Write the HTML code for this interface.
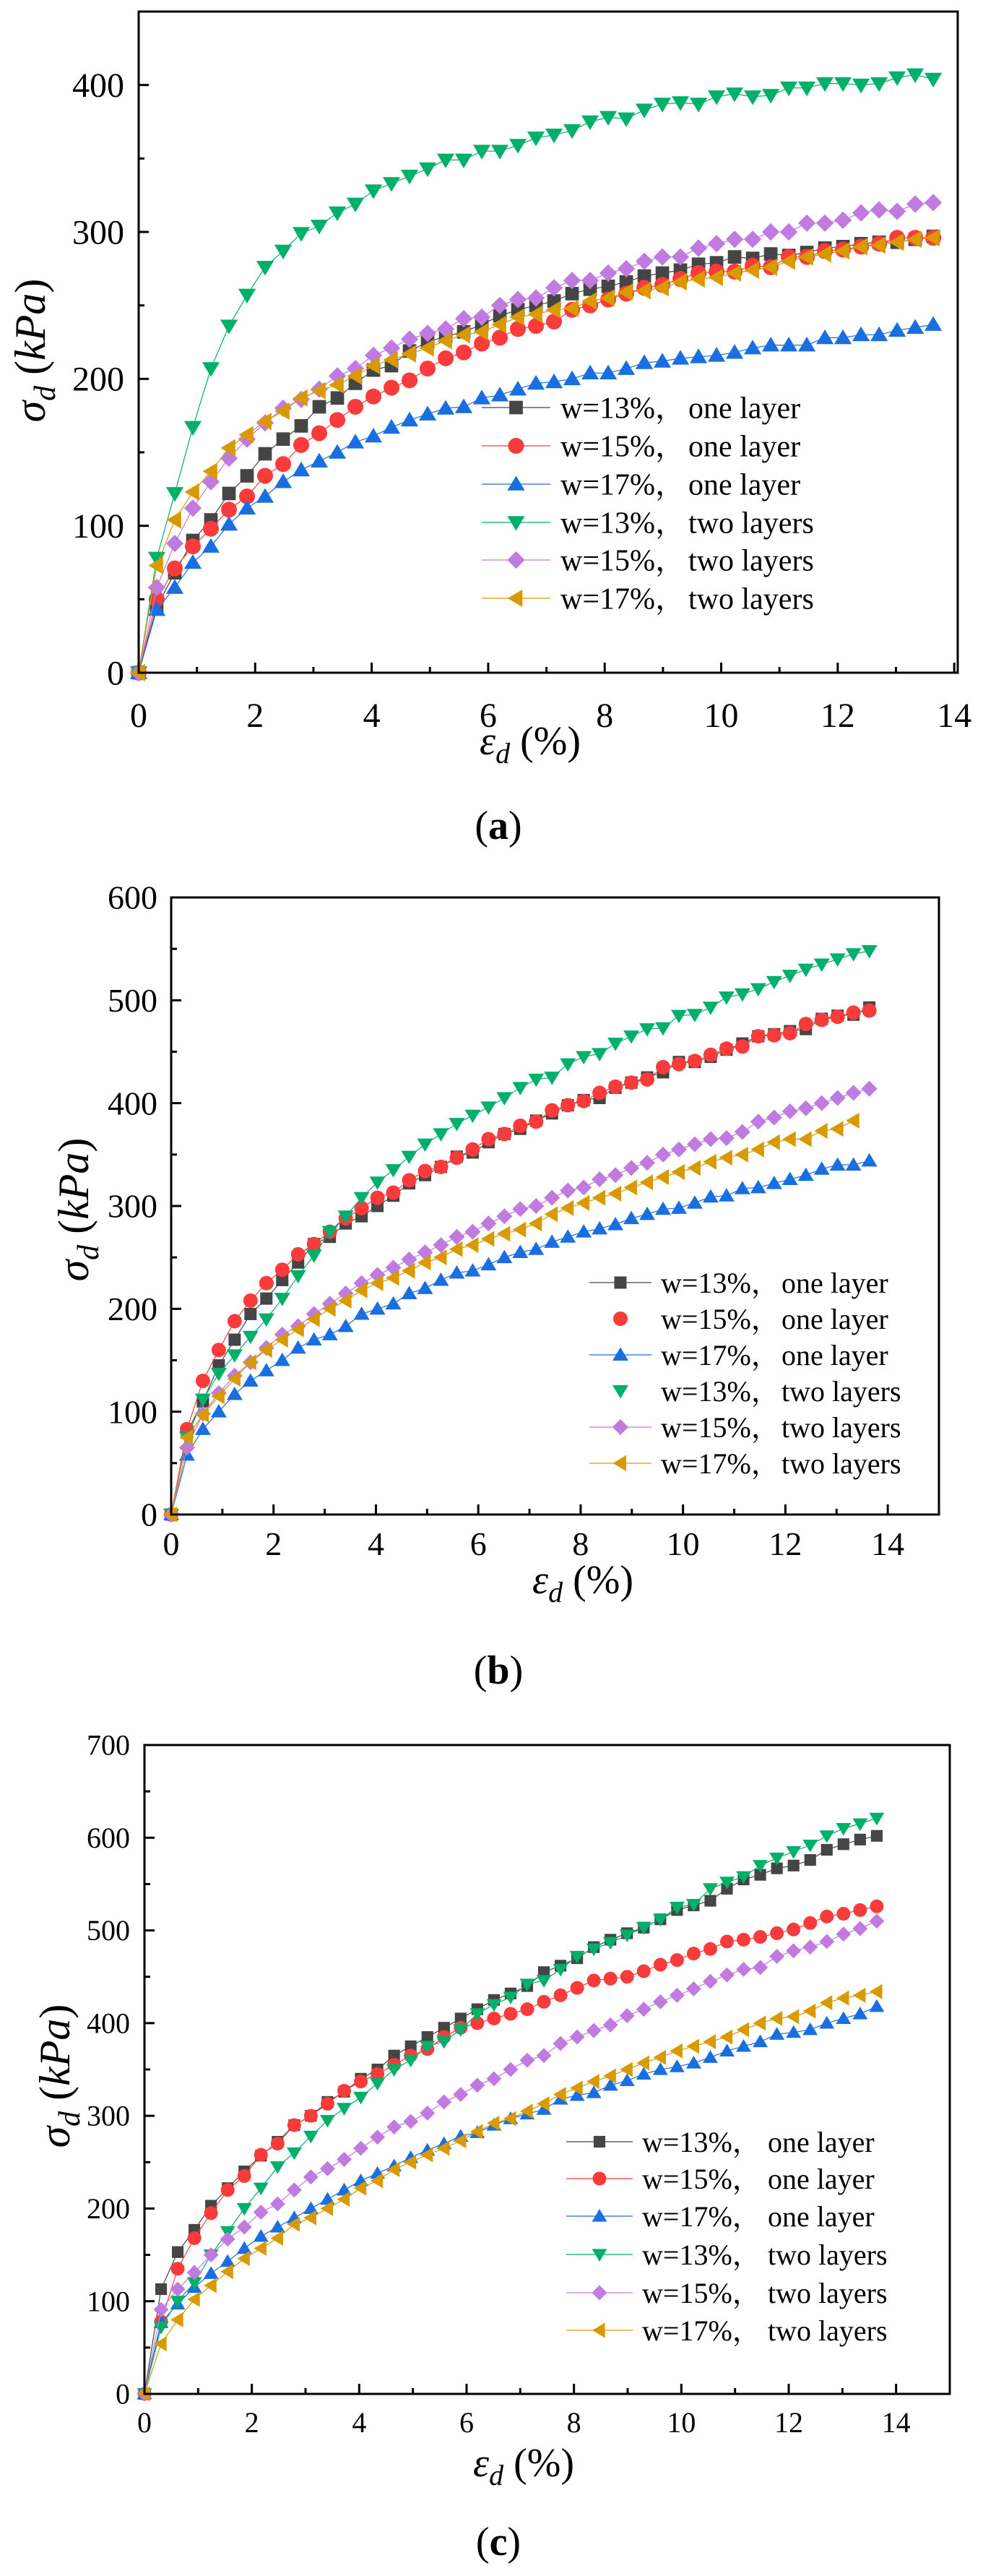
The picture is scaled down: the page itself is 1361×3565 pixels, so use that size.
<!DOCTYPE html>
<html><head><meta charset="utf-8">
<style>
html,body{margin:0;padding:0;background:#fff;}
svg{display:block;}
svg text{font-family:"Liberation Serif","Noto Serif CJK SC",serif;fill:#000;}
</style></head>
<body>
<svg id="fig" width="1361" height="3565" viewBox="0 0 1361 3565" xmlns="http://www.w3.org/2000/svg" font-family="'Liberation Serif', 'Noto Serif CJK SC', serif"></svg>
<script>
// ---- shared strain values (%) ----
const strain = [0,0.31,0.62,0.93,1.24,1.55,1.86,2.17,2.48,2.79,3.1,3.41,3.72,4.03,4.34,4.65,4.96,5.27,5.58,5.89,6.2,6.51,6.82,7.13,7.44,7.75,8.06,8.37,8.68,8.99,9.3,9.61,9.92,10.23,10.54,10.85,11.16,11.47,11.78,12.09,12.4,12.71,13.02,13.33,13.64];
const seriesNames = ["w=13%，","w=15%，","w=17%，","w=13%，","w=15%，","w=17%，"];
const seriesLayers = ["one layer","one layer","one layer","two layers","two layers","two layers"];
const yTicksA = [0,100,200,300,400];
const yTicksB = [0,100,200,300,400,500,600];
const yTicksC = [0,100,200,300,400,500,600,700];
const xTicksA = [0,2,4,6,8,10,12,14];
const xTicksBC = [0,2,4,6,8,10,12,14];
// ---- chart (a) ----
const a_w13_one = [0,45,68,90,104,122,134,149,159,168,181,187,197,206,209,219,225,229,232,237,243,247,250,253,258,261,263,266,270,272,274,278,279,283,282,285,284,286,289,290,292,293,293,295,297];
const a_w15_one = [0,50,71,86,98,111,120,134,142,155,163,172,181,188,194,199,207,214,218,224,228,234,236,239,247,250,254,258,262,264,268,272,273,273,277,276,283,283,287,288,290,292,296,296,296];
const a_w17_one = [0,43,58,75,86,101,112,120,130,138,144,150,157,161,167,172,176,180,181,187,189,193,197,198,200,204,204,207,211,212,214,215,216,218,221,223,223,223,228,228,230,230,233,235,237];
const a_w13_two = [0,78,122,167,207,236,257,276,287,299,304,313,319,328,333,338,343,349,349,355,355,359,364,366,369,375,378,377,383,387,388,387,392,394,392,393,398,398,401,401,400,401,405,407,404];
const a_w15_two = [0,58,88,112,130,146,159,170,180,186,193,202,207,216,221,227,231,234,241,242,250,254,255,262,267,267,272,275,280,283,283,289,292,295,295,300,300,306,306,308,313,315,314,319,320];
const a_w17_two = [0,73,104,123,137,153,162,171,178,187,192,196,202,209,213,217,221,226,230,232,237,242,244,247,248,253,255,259,260,262,266,268,269,272,274,276,280,283,285,287,290,291,293,295,296];
// ---- chart (b) ----
const b_w13_one = [0,80,110,145,170,195,210,228,245,263,270,283,290,300,310,322,330,338,348,352,362,370,375,383,390,398,403,405,415,420,425,430,440,440,445,452,458,465,467,470,472,482,485,486,493];
const b_w15_one = [0,83,130,160,188,208,225,238,253,263,275,288,298,308,313,325,334,338,347,355,365,370,378,382,393,398,402,410,416,420,423,435,438,441,447,453,455,465,466,468,477,481,484,488,490];
const b_w17_one = [0,58,83,100,117,130,140,150,162,170,175,183,195,200,205,215,220,228,235,237,243,250,255,258,265,270,275,278,282,288,292,297,298,303,309,310,317,318,322,326,330,336,340,340,344];
const b_w13_two = [0,75,112,137,155,173,190,210,232,252,275,290,308,323,335,348,360,370,380,388,396,405,415,423,425,438,445,448,458,465,472,473,485,486,493,503,506,511,518,524,530,535,540,545,548];
const b_w15_two = [0,65,98,118,135,148,162,175,183,195,205,215,225,233,240,248,255,262,270,275,283,290,297,300,308,315,318,326,330,337,342,350,355,360,365,366,372,382,386,392,395,400,405,410,414];
const b_w17_two = [0,75,97,115,132,148,160,170,180,190,200,208,218,225,230,237,245,250,258,262,268,273,277,283,292,298,303,308,312,318,323,328,333,337,343,347,350,355,362,365,365,373,375,383];
// ---- chart (c) ----
const c_w13_one = [0,113,153,177,203,222,240,257,272,290,300,315,326,340,350,365,375,385,395,405,415,425,432,440,455,462,470,482,490,497,503,512,522,527,532,545,555,560,567,570,576,587,593,598,602];
const c_w15_one = [0,78,135,168,195,220,235,258,270,290,300,313,327,337,345,355,365,372,385,395,400,405,410,415,423,430,438,446,448,450,456,463,468,475,480,488,490,493,497,501,508,515,518,522,526];
const c_w17_one = [0,77,97,115,130,143,157,170,180,190,200,210,220,230,238,246,255,263,270,278,282,290,297,302,307,318,322,325,333,338,345,350,353,357,363,370,375,380,388,390,393,400,405,410,418];
const c_w13_two = [0,72,100,120,150,175,200,222,245,260,278,295,308,320,335,350,360,375,380,393,410,420,428,442,446,458,472,480,487,495,503,512,525,528,545,552,558,570,578,585,592,602,610,615,621];
const c_w15_two = [0,91,113,131,150,167,180,196,205,220,234,243,253,265,277,288,294,303,315,323,333,340,350,360,365,378,385,392,398,408,415,423,430,437,445,452,458,460,472,478,482,488,496,502,510];
const c_w17_two = [0,54,80,102,117,132,146,157,168,183,190,200,210,222,230,242,250,258,265,273,283,292,297,305,313,323,330,337,343,350,357,363,370,375,380,385,393,400,405,407,413,422,427,430,434];

const colors = ["#454545","#f93b3b","#1a6fe0","#00b06a","#c07ae0","#d99a00"];
const shapes = ["square","circle","up","down","diamond","left"];
const NS = "http://www.w3.org/2000/svg";
const FONT = "'Liberation Serif', 'Noto Serif CJK SC', serif";
const svg = document.getElementById("fig");

function mk(tag, attrs, parent){
  const e = document.createElementNS(NS, tag);
  for (const k in attrs) e.setAttribute(k, attrs[k]);
  if (tag === "text") e.setAttribute("font-family", FONT);
  (parent||svg).appendChild(e);
  return e;
}
function marker(g, shape, cx, cy, r, color){
  let e;
  if (shape==="square") e = mk("rect",{x:cx-r*0.85,y:cy-r*0.85,width:r*1.7,height:r*1.7,fill:color},g);
  else if (shape==="circle") e = mk("circle",{cx:cx,cy:cy,r:r,fill:color},g);
  else {
    let p;
    if (shape==="up") p=[[cx,cy-r*1.05],[cx+r*1.1,cy+r*0.8],[cx-r*1.1,cy+r*0.8]];
    else if (shape==="down") p=[[cx,cy+r*1.05],[cx+r*1.1,cy-r*0.8],[cx-r*1.1,cy-r*0.8]];
    else if (shape==="diamond") p=[[cx,cy-r*1.1],[cx+r*1.1,cy],[cx,cy+r*1.1],[cx-r*1.1,cy]];
    else p=[[cx-r*1.05,cy],[cx+r*0.8,cy-r*1.1],[cx+r*0.8,cy+r*1.1]];
    e = mk("polygon",{points:p.map(q=>q.join(",")).join(" "),fill:color},g);
  }
  return e;
}

function drawChart(cfg){
  const g = mk("g",{});
  
  
  const X = v => cfg.left + (v/cfg.xmax)*(cfg.right-cfg.left);
  const Y = v => cfg.bottom - (v/cfg.ymax)*(cfg.bottom-cfg.top);
  cfg.series.forEach((data, si) => {
    const sg = mk("g",{},g);
    
    
    const pts = data.map((v,i)=>X(strain[i]).toFixed(1)+","+Y(v).toFixed(1)).join(" ");
    mk("polyline",{points:pts,fill:"none",stroke:colors[si],"stroke-width":1.2},sg);
    data.forEach((v,i)=>{
      const m = marker(sg, shapes[si], X(strain[i]), Y(v), cfg.mr, colors[si]);
      
      
    });
  });
  const fr = mk("rect",{x:cfg.left,y:cfg.top,width:cfg.right-cfg.left,height:cfg.bottom-cfg.top,fill:"none",stroke:"#000","stroke-width":3},g);
  
  
  for (let v=0; v<=cfg.xmax+1e-6; v+=1){
    const major = (v%2===0);
    mk("line",{x1:X(v),x2:X(v),y1:cfg.bottom,y2:cfg.bottom-(major?14:8),stroke:"#000","stroke-width":3},g);
  }
  cfg.xticks.forEach(v=>{
    const t = mk("text",{x:X(v),y:cfg.xLabelY,"text-anchor":"middle","font-size":cfg.fs},g);
    t.textContent = v;
    
    
  });
  for (let v=0; v<=cfg.ymax+1e-6; v+=50){
    const major = (v%100===0);
    mk("line",{x1:cfg.left,x2:cfg.left+(major?14:8),y1:Y(v),y2:Y(v),stroke:"#000","stroke-width":3},g);
  }
  cfg.yticks.forEach(v=>{
    const t = mk("text",{x:cfg.yLabelX,y:Y(v)+cfg.fs*0.34,"text-anchor":"end","font-size":cfg.fs},g);
    t.textContent = v;
    
    
  });
  const yt = mk("text",{x:0,y:0,"font-size":60,"text-anchor":"middle",transform:`translate(${cfg.yTitle[0]},${cfg.yTitle[1]}) rotate(-90)`},g);
  
  
  yt.innerHTML = '<tspan font-style="italic">σ</tspan><tspan font-style="italic" font-size="42" dy="14">d</tspan><tspan dy="-14"> (</tspan><tspan font-style="italic">kPa</tspan><tspan>)</tspan>';
  const xt = mk("text",{x:cfg.xTitle[0],y:cfg.xTitle[1],"font-size":56,"text-anchor":"middle"},g);
  
  
  xt.innerHTML = '<tspan font-style="italic">ε</tspan><tspan font-style="italic" font-size="40" dy="12">d</tspan><tspan dy="-12"> (%)</tspan>';
  const lg = mk("g",{},g);
  
  
  cfg.legY.forEach((ly,si)=>{
    const eg = mk("g",{},lg);
    
    
    if (!cfg.noLine || cfg.noLine.indexOf(si)<0)
      mk("line",{x1:cfg.legLine[0],x2:cfg.legLine[1],y1:ly,y2:ly,stroke:colors[si],"stroke-width":1.2},eg);
    marker(eg, shapes[si], (cfg.legLine[0]+cfg.legLine[1])/2, ly, cfg.mr, colors[si]);
    const t1 = mk("text",{x:cfg.legText,y:ly+cfg.lfs*0.35,"font-size":cfg.lfs},eg);
    t1.textContent = seriesNames[si];
    const t2 = mk("text",{x:cfg.legText+cfg.legOff,y:ly+cfg.lfs*0.35,"font-size":cfg.lfs},eg);
    t2.textContent = seriesLayers[si];
  });
  const cap = mk("text",{x:cfg.cap[0],y:cfg.cap[1]+18,"font-size":56,"text-anchor":"middle"},g);
  
  
  cap.innerHTML = '(<tspan font-weight="bold">'+cfg.capText+'</tspan>)';
}

drawChart({name:"chart-a",left:192,right:1326,top:16,bottom:931,xmax:14.06,ymax:450,
  series:[a_w13_one,a_w15_one,a_w17_one,a_w13_two,a_w15_two,a_w17_two],
  xticks:xTicksA,yticks:yTicksA,fs:48,xLabelY:1006,yLabelX:172,mr:11,
  yTitle:[62,485],xTitle:[734,1044],
  legY:[564,617,670,723,775,828],legLine:[667,762],legText:776,legOff:177,lfs:42,
  cap:[690,1143],capText:"a"});
drawChart({name:"chart-b",left:237,right:1300,top:1242,bottom:2096,xmax:15,ymax:600,
  series:[b_w13_one,b_w15_one,b_w17_one,b_w13_two,b_w15_two,b_w17_two],
  xticks:xTicksBC,yticks:yTicksB,fs:46,xLabelY:2152,yLabelX:218,mr:10,
  yTitle:[122,1674],xTitle:[807,2205],
  legY:[1775,1825,1875,1925,1975,2025],legLine:[816,902],noLine:[1,3],legText:915,legOff:167,lfs:40,
  cap:[690,2312],capText:"b"});
drawChart({name:"chart-c",left:200,right:1315,top:2415,bottom:3313,xmax:15,ymax:700,
  series:[c_w13_one,c_w15_one,c_w17_one,c_w13_two,c_w15_two,c_w17_two],
  xticks:xTicksBC,yticks:yTicksC,fs:40,xLabelY:3366,yLabelX:180,mr:9.5,
  yTitle:[96,2873],xTitle:[725,3427],
  legY:[2964,3015,3067,3120,3173,3225],legLine:[784,876],legText:889,legOff:174,lfs:40,
  cap:[690,3518],capText:"c"});
</script>
</body></html>
